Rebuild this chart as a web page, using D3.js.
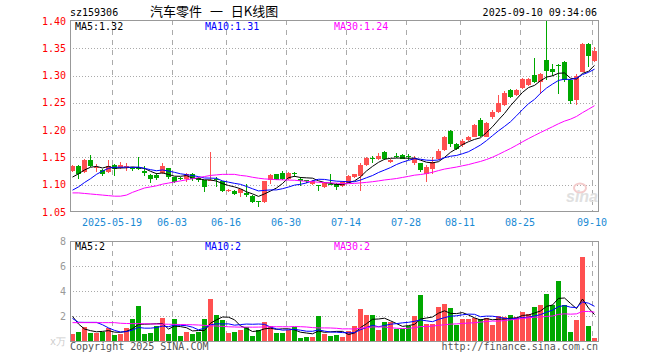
<!DOCTYPE html>
<html lang="zh">
<head>
<meta charset="utf-8">
<script src="https://d3js.org/d3.v7.min.js"></script>
<style>
  body { margin: 0; background: #fff; }
  svg text { font-family: 'DejaVu Sans Mono', 'Liberation Mono', monospace; font-size: 10px; }
  .frame { fill: none; stroke: #999; shape-rendering: crispEdges; }
  .hgrid { stroke: #aaa; stroke-dasharray: 1,2; shape-rendering: crispEdges; }
  .vgrid { stroke: #aaa; stroke-dasharray: 5,5; shape-rendering: crispEdges; }
  .ma { fill: none; stroke-width: 1; }
</style>
</head>
<body>
<svg id="chart" width="660" height="360"></svg>
<script>
const code = "sz159306";
const title = "汽车零件 一 日K线图";
const stamp = "2025-09-10 09:34:06";

const dates = [
  "2025-05-08","2025-05-09","2025-05-12","2025-05-13","2025-05-14","2025-05-15","2025-05-16",
  "2025-05-19","2025-05-20","2025-05-21","2025-05-22","2025-05-23",
  "2025-05-26","2025-05-27","2025-05-28","2025-05-29","2025-05-30",
  "2025-06-03","2025-06-04","2025-06-05","2025-06-06",
  "2025-06-09","2025-06-10","2025-06-11","2025-06-12","2025-06-13",
  "2025-06-16","2025-06-17","2025-06-18","2025-06-19","2025-06-20",
  "2025-06-23","2025-06-24","2025-06-25","2025-06-26","2025-06-27",
  "2025-06-30","2025-07-01","2025-07-02","2025-07-03","2025-07-04",
  "2025-07-07","2025-07-08","2025-07-09","2025-07-10","2025-07-11",
  "2025-07-14","2025-07-15","2025-07-16","2025-07-17","2025-07-18",
  "2025-07-21","2025-07-22","2025-07-23","2025-07-24","2025-07-25",
  "2025-07-28","2025-07-29","2025-07-30","2025-07-31",
  "2025-08-04","2025-08-05","2025-08-06","2025-08-07","2025-08-08",
  "2025-08-11","2025-08-12","2025-08-13","2025-08-14","2025-08-15",
  "2025-08-18","2025-08-19","2025-08-20","2025-08-21","2025-08-22",
  "2025-08-25","2025-08-26","2025-08-27","2025-08-28","2025-08-29",
  "2025-09-01","2025-09-02","2025-09-03","2025-09-04","2025-09-05",
  "2025-09-08","2025-09-09","2025-09-10"
];

const open = [
  1.126,1.135,1.124,1.145,1.131,1.127,1.124,1.137,1.131,1.133,
  1.130,1.131,1.125,1.118,1.118,1.122,1.130,1.114,1.113,1.110,
  1.119,1.112,1.108,1.107,1.111,1.106,1.088,1.088,1.085,1.084,
  1.080,1.070,1.068,1.108,1.119,1.121,1.110,1.121,1.110,1.108,
  1.101,1.099,1.096,1.102,1.101,1.097,1.104,1.114,1.116,1.136,
  1.149,1.147,1.160,1.141,1.153,1.155,1.152,1.140,1.139,1.120,
  1.129,1.147,1.163,1.198,1.174,1.172,1.182,1.188,1.218,1.188,
  1.224,1.234,1.246,1.274,1.264,1.278,1.283,1.301,1.289,1.329,
  1.312,1.319,1.324,1.292,1.255,1.307,1.358,1.326
];
const high = [
  1.137,1.136,1.147,1.155,1.138,1.128,1.146,1.138,1.142,1.140,
  1.133,1.151,1.134,1.119,1.121,1.140,1.131,1.115,1.115,1.122,
  1.121,1.114,1.109,1.160,1.114,1.107,1.093,1.090,1.093,1.102,
  1.081,1.071,1.107,1.120,1.120,1.125,1.123,1.123,1.115,1.109,
  1.109,1.100,1.104,1.120,1.103,1.106,1.117,1.120,1.139,1.150,
  1.152,1.159,1.161,1.148,1.159,1.156,1.157,1.152,1.140,1.136,
  1.151,1.165,1.190,1.200,1.176,1.184,1.190,1.212,1.223,1.215,
  1.236,1.265,1.271,1.276,1.275,1.295,1.295,1.333,1.304,1.400,
  1.322,1.322,1.326,1.293,1.302,1.359,1.359,1.352
];
const low = [
  1.124,1.110,1.122,1.133,1.123,1.116,1.121,1.116,1.128,1.125,
  1.126,1.127,1.116,1.104,1.108,1.120,1.111,1.103,1.108,1.105,
  1.106,1.105,1.086,1.106,1.095,1.086,1.087,1.082,1.078,1.077,
  1.066,1.060,1.066,1.101,1.108,1.108,1.109,1.114,1.098,1.104,
  1.100,1.088,1.094,1.099,1.090,1.096,1.103,1.113,1.089,1.135,
  1.140,1.146,1.146,1.140,1.149,1.147,1.146,1.136,1.124,1.105,
  1.120,1.146,1.162,1.169,1.163,1.170,1.180,1.187,1.187,1.187,
  1.220,1.232,1.244,1.258,1.262,1.276,1.281,1.286,1.267,1.292,
  1.300,1.266,1.289,1.247,1.246,1.306,1.315,1.325
];
const close = [
  1.135,1.120,1.146,1.134,1.133,1.120,1.135,1.128,1.137,1.135,
  1.128,1.128,1.121,1.111,1.113,1.135,1.114,1.105,1.110,1.120,
  1.111,1.108,1.096,1.109,1.109,1.088,1.091,1.083,1.092,1.081,
  1.069,1.068,1.106,1.118,1.109,1.110,1.121,1.119,1.107,1.106,
  1.107,1.097,1.103,1.100,1.095,1.105,1.116,1.119,1.137,1.149,
  1.147,1.153,1.147,1.146,1.151,1.148,1.150,1.149,1.127,1.132,
  1.142,1.161,1.188,1.174,1.165,1.180,1.187,1.209,1.189,1.213,
  1.233,1.250,1.268,1.260,1.274,1.294,1.294,1.288,1.302,1.308,
  1.306,1.317,1.291,1.254,1.300,1.358,1.336,1.345
];
// volume, 万
const volume = [
  0.56,0.72,1.12,0.64,0.64,0.72,1.04,0.51,0.56,1.04,
  1.76,2.80,0.56,0.64,1.17,1.84,0.56,1.76,0.43,0.72,
  0.56,0.72,1.76,3.36,2.08,1.68,0.64,0.72,0.91,1.12,
  0.40,0.91,1.52,1.17,0.64,0.64,0.91,1.09,0.24,0.32,
  0.32,2.03,0.56,0.43,0.51,0.32,0.77,1.20,2.56,2.08,
  2.08,0.88,1.52,1.52,0.96,0.96,1.20,2.00,3.68,1.36,
  1.36,2.72,2.96,2.64,1.28,1.76,1.76,1.84,1.76,1.84,
  1.28,2.00,1.92,2.08,1.92,2.32,2.16,2.72,2.88,3.76,
  2.88,4.80,2.88,0.72,1.68,6.72,1.20,0.24
];

// moving-average values before enough history is on screen
const ma5Head = [1.114, 1.120, 1.127, 1.132];
const ma10Head = [1.090, 1.096, 1.104, 1.111, 1.119, 1.125, 1.130, 1.132, 1.132];
const ma30Head = [
  1.085,1.085,1.084,1.083,1.082,1.081,1.080,1.079,1.079,1.081,
  1.086,1.090,1.094,1.096,1.098,1.101,1.103,1.105,1.107,1.109,
  1.111,1.113,1.115,1.117,1.118,1.119,1.119,1.119,1.117
];
const vma5Head = [1.97, 1.36, 0.96, 0.83];
const vma10Head = [1.80, 1.50, 1.49, 1.49, 1.49, 1.30, 1.05, 0.85, 0.72];
const vma30Head = [
  1.47,1.47,1.47,1.47,1.47,1.47,1.47,1.47,1.42,1.40,
  1.39,1.39,1.38,1.37,1.36,1.35,1.34,1.33,1.32,1.31,
  1.30,1.28,1.25,1.22,1.20,1.17,1.14,1.12,1.11
];

const priceTicks = [1.05, 1.10, 1.15, 1.20, 1.25, 1.30, 1.35, 1.40];
const volTicks = [2, 4, 6, 8];
const dateTicks = ["2025-05-19","2025-06-03","2025-06-16","2025-06-30","2025-07-14",
                   "2025-07-28","2025-08-11","2025-08-25","2025-09-10"];
const dateTickLabels = ["2025-05-19","06-03","06-16","06-30","07-14",
                        "07-28","08-11","08-25","09-10"];

const RED = "#ff5050", GREEN = "#00a800";
const maColors = ["#000000", "#0000ff", "#ff00ff"];

const svg = d3.select("#chart");
const left = 70, right = 598;
const pTop = 20, pBot = 211, vTop = 241, vBot = 341;

const x = d3.scaleBand().domain(d3.range(dates.length)).range([left, right]);
const yP = d3.scaleLinear().domain([1.05, 1.40]).range([212, 21]);
const yV = d3.scaleLinear().domain([0, 8]).range([vBot, vTop]);

function movingAvg(vals, n, head) {
  return vals.map((v, i) => i < n - 1 ? head[i] : d3.mean(vals.slice(i - n + 1, i + 1)));
}
const ma5 = movingAvg(close, 5, ma5Head),
      ma10 = movingAvg(close, 10, ma10Head),
      ma30 = movingAvg(close, 30, ma30Head);
const vma5 = movingAvg(volume, 5, vma5Head),
      vma10 = movingAvg(volume, 10, vma10Head),
      vma30 = movingAvg(volume, 30, vma30Head);

const idx = d3.range(dates.length);
const colorOf = i => close[i] >= open[i] ? RED : GREEN;

// header
svg.append("text").attr("x", 70).attr("y", 16).text(code);
svg.append("text").attr("x", 150).attr("y", 16)
   .style("font-family", "'Noto Sans CJK SC', sans-serif").style("font-size", "13px")
   .style("word-spacing", "5px")
   .text(title);
svg.append("text").attr("x", 597).attr("y", 16).attr("text-anchor", "end").text(stamp);

// grids
const g = svg.append("g");
g.selectAll(".hp").data(priceTicks.slice(1, -1)).join("line")
  .attr("class", "hgrid")
  .attr("x1", left).attr("x2", right)
  .attr("y1", d => Math.round(yP(d)) + 0.5).attr("y2", d => Math.round(yP(d)) + 0.5);
g.selectAll(".hv").data(volTicks.slice(0, -1)).join("line")
  .attr("class", "hgrid")
  .attr("x1", left).attr("x2", right)
  .attr("y1", d => yV(d) + 0.5).attr("y2", d => yV(d) + 0.5);
const tickIdx = dateTicks.map(d => dates.indexOf(d));
[[pTop, pBot], [vTop, vBot]].forEach(([a, b]) => {
  g.selectAll(null).data(tickIdx).join("line")
    .attr("class", "vgrid")
    .attr("x1", i => x(i) + 0.5).attr("x2", i => x(i) + 0.5)
    .attr("y1", a).attr("y2", b);
});

// price axis labels
svg.selectAll(".pl").data(priceTicks).join("text")
  .attr("x", 66).attr("y", d => yP(d)).attr("dy", "0.35em")
  .attr("text-anchor", "end").attr("fill", "#f00")
  .text(d => d.toFixed(2));
// volume axis labels
svg.selectAll(".vl").data(volTicks).join("text")
  .attr("x", 66).attr("y", d => yV(d)).attr("dy", "0.35em")
  .attr("text-anchor", "end").attr("fill", "#999")
  .text(d => d);
svg.append("text").attr("x", 66).attr("y", vBot).attr("dy", "0.35em")
  .attr("text-anchor", "end").attr("fill", "#ccc").text("x万");

// date labels
svg.selectAll(".dl").data(tickIdx).join("text")
  .attr("x", i => x(i)).attr("y", 226).attr("text-anchor", "middle")
  .attr("fill", "#1a8ad4")
  .text((i, k) => dateTickLabels[k]);

// watermark
svg.append("ellipse").attr("cx", 580).attr("cy", 188).attr("rx", 6).attr("ry", 4.5)
  .attr("fill", "none").attr("stroke", "#f4cccc").attr("stroke-width", 2);
svg.append("text").attr("x", 566).attr("y", 202)
  .style("font-family", "'Liberation Sans', sans-serif").style("font-size", "16px")
  .style("font-style", "italic").style("font-weight", "bold")
  .attr("fill", "#e0e0e0").text("sina");

// candles
const cg = svg.append("g").attr("shape-rendering", "crispEdges");
cg.selectAll(".wick").data(idx).join("rect")
  .attr("x", i => x(i) + 2).attr("width", 1)
  .attr("y", i => Math.round(yP(high[i])))
  .attr("height", i => Math.max(1, Math.round(yP(low[i])) - Math.round(yP(high[i]))))
  .attr("fill", colorOf);
cg.selectAll(".body").data(idx).join("rect")
  .attr("x", i => x(i)).attr("width", 5)
  .attr("y", i => Math.round(yP(Math.max(open[i], close[i]))))
  .attr("height", i => Math.max(1, Math.round(yP(Math.min(open[i], close[i]))) - Math.round(yP(Math.max(open[i], close[i])))))
  .attr("fill", colorOf);

// volume bars
cg.selectAll(".vol").data(idx).join("rect")
  .attr("x", i => x(i)).attr("width", 5)
  .attr("y", i => Math.round(yV(volume[i])))
  .attr("height", i => vBot - Math.round(yV(volume[i])))
  .attr("fill", colorOf);

// moving average lines
const lineP = d3.line().x((d, i) => x(i) + 2.5).y(d => yP(d));
const lineV = d3.line().x((d, i) => x(i) + 2.5).y(d => yV(d));
[ma5, ma10, ma30].forEach((s, k) => {
  svg.append("path").attr("class", "ma").attr("d", lineP(s)).attr("stroke", maColors[k]);
});
[vma5, vma10, vma30].forEach((s, k) => {
  svg.append("path").attr("class", "ma").attr("d", lineV(s)).attr("stroke", maColors[k]);
});

// frames
svg.append("rect").attr("class", "frame")
  .attr("x", left + 0.5).attr("y", pTop + 0.5).attr("width", right - left).attr("height", pBot - pTop);
svg.append("rect").attr("class", "frame")
  .attr("x", left + 0.5).attr("y", vTop + 0.5).attr("width", right - left).attr("height", vBot - vTop);

// legends
const last = dates.length - 1;
const legP = [["MA5:", ma5], ["MA10:", ma10], ["MA30:", ma30]];
const legV = [["MA5:", vma5], ["MA10:", vma10], ["MA30:", vma30]];
const legX = [75, 205, 334];
legP.forEach(([lab, s], k) => {
  svg.append("text").attr("x", legX[k]).attr("y", 30).attr("fill", maColors[k])
    .text(lab + s[last].toFixed(2));
});
legV.forEach(([lab, s], k) => {
  svg.append("text").attr("x", legX[k]).attr("y", 250).attr("fill", maColors[k])
    .text(lab + Math.floor(s[last]));
});

// footer
svg.append("text").attr("x", 70).attr("y", 350).attr("fill", "#555")
  .text("Copyright 2025 SINA.COM");
svg.append("text").attr("x", 598).attr("y", 350).attr("text-anchor", "end").attr("fill", "#555")
  .text("http://finance.sina.com.cn");
</script>
</body>
</html>
